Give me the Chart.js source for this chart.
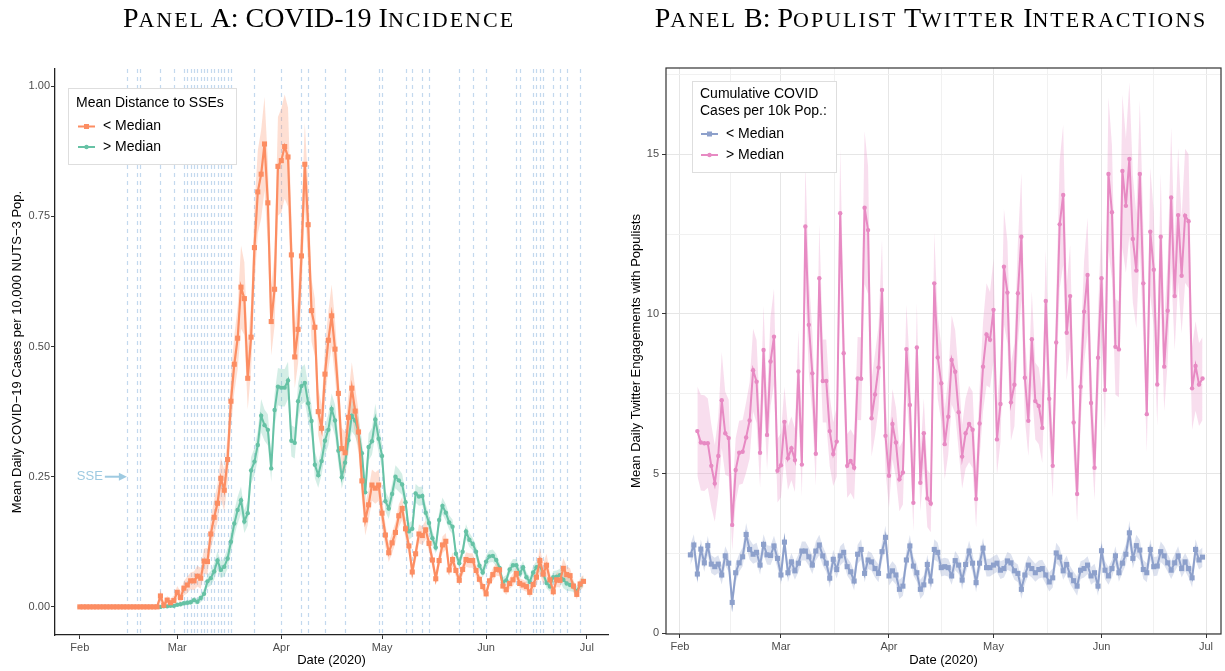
<!DOCTYPE html>
<html><head><meta charset="utf-8">
<script src="https://cdn.jsdelivr.net/npm/chart.js@4/dist/chart.umd.min.js"></script>
<style>
html,body{margin:0;padding:0;background:#fff;}
#wrap{position:relative;width:1225px;height:671px;overflow:hidden;}
canvas{position:absolute;top:0;}
#cA{left:0;}
#cB{left:612px;}
.ptitle{position:absolute;top:1px;height:34px;line-height:34px;text-align:center;white-space:nowrap;
  font-family:'Liberation Serif','DejaVu Serif',serif;font-size:28px;color:#000;pointer-events:none;z-index:2;}
.ptitle .sc{font-size:22px;text-transform:uppercase;letter-spacing:2px;}
#tA{left:0;width:638px;}
#tB{left:637px;width:588px;}
</style></head><body>
<div id="wrap">
<canvas id="cA" width="612" height="671"></canvas><canvas id="cB" width="613" height="671"></canvas>
<div class="ptitle" id="tA">P<span class="sc">anel</span> A: COVID-19 I<span class="sc">ncidence</span></div>
<div class="ptitle" id="tB">P<span class="sc">anel</span> B: P<span class="sc">opulist</span> T<span class="sc">witter</span> I<span class="sc">nteractions</span></div>
</div>
<script>
// ---------------- DATA ----------------
// Day index: 0 = 1 Feb 2020
const monthTickDays = [0, 29, 60, 90, 121, 151];
const monthLabels = ['Feb', 'Mar', 'Apr', 'May', 'Jun', 'Jul'];
const minorTickDaysB = [14.5, 44.5, 75, 105.5, 136];
const yTicksA = [0, 0.25, 0.5, 0.75, 1.0];
const yTicksB = [0, 2.5, 5, 7.5, 10, 12.5, 15, 17.5];
const yLabelsB = [0, 5, 10, 15];

// SSE dates (day index) shown as dashed vertical lines in Panel A
const sseDays = [14,17,18,24,28,31,32,33,34,35,36,37,38,39,40,41,42,43,44,45,52,60,66,68,73,79,89,90,97,99,102,104,113,117,121,130,131,135,136,137,138,141,143,145,149];
const sseArrowValue = 0.25;

// Panel A: Mean daily COVID-19 cases per 10,000 pop.
const startLow = 0;   // < Median distance to SSEs
const lowDistance = [0,0,0,0,0,0,0,0,0,0,0,0,0,0,0,0,0,0,0,0,0,0,0,0,
0.021,0.003,0.013,0.008,0.012,0.028,0.018,0.036,0.042,0.050,
0.050,0.059,0.055,0.088,0.087,0.140,0.172,0.199,0.247,0.224,
0.283,0.395,0.466,0.516,0.614,0.592,0.439,0.518,0.690,0.797,
0.831,0.889,0.776,0.548,0.610,0.846,0.857,0.884,0.864,0.676,
0.480,0.533,0.674,0.850,0.734,0.569,0.537,0.375,0.343,0.447,
0.512,0.559,0.495,0.410,0.304,0.296,0.364,0.420,0.376,0.336,
0.242,0.167,0.196,0.234,0.228,0.234,0.180,0.138,0.104,0.123,
0.143,0.175,0.189,0.150,0.117,0.067,0.102,0.140,0.137,0.148,
0.122,0.090,0.054,0.089,0.119,0.126,0.071,0.091,0.070,0.051,
0.072,0.091,0.089,0.089,0.070,0.053,0.039,0.025,0.050,0.062,
0.072,0.071,0.040,0.033,0.045,0.052,0.064,0.045,0.042,0.039,
0.028,0.043,0.057,0.089,0.063,0.080,0.052,0.029,0.052,0.051,
0.074,0.062,0.060,0.040,0.024,0.044,0.049];
const lowDistanceCI = [0,0,0,0,0,0,0,0,0,0,0,0,0,0,0,0,0,0,0,0,0,0,0,0,
0.012,0.006,0.008,0.008,0.010,0.012,0.012,0.014,0.016,0.016,
0.018,0.020,0.020,0.024,0.026,0.030,0.034,0.036,0.040,0.040,
0.045,0.050,0.055,0.060,0.080,0.070,0.060,0.065,0.075,0.080,
0.085,0.090,0.080,0.065,0.070,0.095,0.100,0.100,0.095,0.075,
0.060,0.065,0.075,0.080,0.075,0.060,0.055,0.045,0.045,0.050,
0.055,0.060,0.055,0.045,0.040,0.040,0.045,0.050,0.045,0.040,
0.035,0.030,0.030,0.030,0.030,0.030,0.028,0.022,0.018,0.020,
0.020,0.022,0.022,0.020,0.018,0.014,0.016,0.018,0.018,0.018,
0.016,0.014,0.012,0.014,0.016,0.016,0.012,0.014,0.012,0.010,
0.012,0.014,0.014,0.014,0.012,0.010,0.010,0.008,0.010,0.012,
0.012,0.012,0.010,0.010,0.010,0.012,0.012,0.010,0.010,0.010,
0.010,0.012,0.016,0.025,0.020,0.022,0.014,0.010,0.014,0.014,
0.020,0.016,0.014,0.012,0.010,0.012,0.012];

const startHigh = 0;  // > Median distance to SSEs
const highDistance = [0,0,0,0,0,0,0,0,0,0,0,0,0,0,0,0,0,0,0,0,0,0,0,0,0,
0.001,0.001,0.002,0.002,0.004,0.005,0.007,0.008,0.009,0.013,
0.010,0.017,0.025,0.049,0.055,0.068,0.089,0.071,0.077,0.093,
0.125,0.160,0.186,0.205,0.164,0.180,0.262,0.279,0.311,0.367,
0.349,0.340,0.266,0.378,0.423,0.421,0.421,0.435,0.319,0.315,
0.395,0.424,0.430,0.391,0.357,0.273,0.253,0.280,0.319,0.340,
0.380,0.358,0.300,0.249,0.277,0.320,0.367,0.358,0.335,0.295,
0.220,0.307,0.318,0.360,0.323,0.290,0.203,0.189,0.217,0.250,
0.243,0.235,0.201,0.145,0.150,0.218,0.212,0.213,0.181,0.161,
0.132,0.114,0.167,0.194,0.181,0.162,0.154,0.102,0.084,0.106,
0.145,0.129,0.121,0.106,0.079,0.066,0.087,0.097,0.098,0.090,
0.075,0.047,0.051,0.072,0.080,0.080,0.064,0.076,0.057,0.048,
0.066,0.076,0.079,0.064,0.046,0.039,0.057,0.058,0.061,0.052,
0.045,0.042,0.039,0.030,0.042,0.050];
const highDistanceCI = [0,0,0,0,0,0,0,0,0,0,0,0,0,0,0,0,0,0,0,0,0,0,0,0,0,
0.002,0.002,0.002,0.003,0.003,0.004,0.004,0.005,0.005,0.006,
0.006,0.008,0.010,0.012,0.014,0.016,0.018,0.016,0.018,0.020,
0.022,0.024,0.026,0.026,0.022,0.024,0.026,0.026,0.028,0.032,
0.030,0.030,0.026,0.032,0.036,0.036,0.036,0.036,0.030,0.030,
0.034,0.036,0.036,0.034,0.030,0.026,0.024,0.026,0.028,0.030,
0.030,0.030,0.026,0.022,0.024,0.026,0.030,0.030,0.028,0.026,
0.022,0.026,0.026,0.030,0.026,0.024,0.020,0.020,0.020,0.022,
0.022,0.020,0.018,0.016,0.016,0.018,0.018,0.018,0.016,0.016,
0.014,0.012,0.016,0.016,0.016,0.014,0.014,0.012,0.010,0.012,
0.014,0.014,0.012,0.012,0.010,0.010,0.012,0.012,0.012,0.012,
0.010,0.010,0.010,0.010,0.012,0.012,0.010,0.012,0.010,0.010,
0.012,0.012,0.012,0.010,0.010,0.010,0.012,0.012,0.012,0.016,
0.014,0.012,0.010,0.010,0.010,0.010];

// Panel B: Mean daily Twitter engagements with populists
const startBelow = 3;  // < Median cumulative cases
const belowMedian = [2.45,2.76,1.85,2.63,2.20,2.74,2.16,2.08,2.16,1.82,
2.42,2.19,0.96,1.89,2.20,2.39,3.09,2.62,2.47,2.53,
2.13,2.78,2.45,2.43,2.73,2.34,1.82,2.85,1.89,2.23,
1.95,2.19,2.57,2.57,2.39,2.13,2.57,2.76,2.42,2.19,
1.72,2.31,1.99,2.42,2.53,2.08,1.92,1.63,2.47,2.62,
1.87,2.29,2.23,2.02,1.87,2.55,3.00,1.79,1.95,1.82,
1.37,1.47,2.29,2.73,2.10,1.89,1.37,1.51,2.15,1.63,
2.62,2.53,2.05,2.08,2.05,1.79,2.27,2.13,1.66,2.15,
2.57,2.19,1.58,2.19,2.66,2.05,2.05,2.13,2.19,1.97,
2.02,2.26,2.20,1.95,1.87,1.37,1.82,2.13,2.02,1.89,
1.99,2.02,1.82,1.60,1.73,2.51,2.38,1.95,2.15,1.82,
1.64,1.47,1.97,2.02,2.13,1.79,1.89,1.47,2.58,1.97,
1.79,2.02,2.42,1.89,2.19,2.47,3.14,2.34,2.74,2.60,
1.99,1.89,2.62,2.08,2.10,2.55,2.42,2.20,1.97,2.20,
2.42,2.02,2.23,2.02,1.73,2.62,2.29,2.38];
const belowMedianCI = [.32,.34,.30,.30,.28,.30,.28,.28,.28,.30,
.30,.28,.30,.30,.28,.30,.36,.32,.30,.30,
.30,.32,.30,.30,.32,.30,.30,.32,.30,.28,
.28,.28,.30,.30,.28,.28,.30,.32,.30,.28,
.30,.30,.28,.30,.30,.28,.28,.30,.30,.32,
.28,.28,.28,.28,.28,.30,.36,.30,.30,.30,
.30,.30,.30,.34,.30,.28,.30,.30,.30,.30,
.32,.30,.28,.28,.28,.28,.30,.28,.30,.30,
.32,.30,.30,.30,.32,.28,.28,.28,.28,.28,
.28,.28,.28,.28,.28,.30,.30,.30,.28,.28,
.28,.28,.28,.30,.30,.32,.30,.28,.28,.28,
.28,.30,.28,.28,.28,.28,.28,.30,.32,.28,
.28,.28,.30,.28,.30,.32,.38,.32,.34,.32,
.30,.30,.32,.30,.30,.32,.30,.28,.28,.28,
.30,.28,.28,.28,.30,.32,.30,.30];

const startAbove = 5;  // > Median cumulative cases
const aboveMedian = [6.33,5.97,5.95,5.95,5.24,4.69,5.55,7.30,6.26,6.11,
3.39,5.11,5.65,5.68,6.13,6.66,8.24,7.88,5.65,8.87,
6.21,8.51,9.29,5.09,5.26,6.62,5.48,5.79,5.42,8.20,
5.28,12.74,9.66,8.14,5.62,11.12,7.90,7.90,6.33,5.61,
6.00,13.16,8.77,5.24,5.39,5.18,7.98,7.97,13.33,12.63,
6.73,7.48,8.32,10.75,6.18,4.93,6.55,5.97,4.82,5.03,
8.90,7.15,4.08,8.95,4.71,6.26,4.22,4.06,10.96,8.64,
7.83,5.92,6.78,8.56,8.19,6.92,5.53,6.26,6.55,6.37,
4.20,6.57,8.35,9.36,9.19,10.13,6.07,7.18,11.48,10.67,
7.23,7.78,10.65,12.42,8.00,6.65,9.21,7.27,7.12,6.43,
10.41,7.34,5.24,9.11,12.81,13.73,9.41,10.56,6.60,4.36,
7.72,10.07,11.22,7.21,5.18,8.63,11.12,7.62,14.39,13.19,
8.97,8.89,14.48,13.39,14.86,12.35,11.36,14.39,10.96,6.86,
12.58,11.39,7.79,12.42,8.35,10.10,13.65,10.56,13.10,11.20,
13.08,12.91,7.67,8.37,7.79,7.98];
const aboveMedianCI = [1.4,1.5,1.5,1.4,1.3,1.2,1.2,1.5,1.3,1.2,
0.8,1.0,1.0,1.0,1.1,1.2,1.3,1.3,1.1,1.4,
1.1,1.4,1.5,1.0,1.0,1.1,1.0,1.0,1.0,1.3,
1.0,2.0,1.5,1.3,1.0,1.7,1.3,1.3,1.1,1.0,
1.1,2.0,1.4,1.0,1.0,1.0,1.3,1.3,2.4,2.0,
1.2,1.3,1.3,1.6,1.1,1.0,1.1,1.1,1.0,1.0,
1.4,1.2,0.9,1.4,0.9,1.1,0.9,0.9,1.6,1.3,
1.2,1.1,1.2,1.4,1.3,1.2,1.0,1.1,1.2,1.2,
0.9,1.1,1.4,1.6,1.5,1.6,1.1,1.2,1.8,1.6,
1.2,1.3,1.6,2.0,1.3,1.1,1.5,1.2,1.2,1.1,
1.6,1.2,1.0,1.4,2.0,2.2,1.5,1.6,1.1,0.9,
1.2,1.6,1.8,1.2,1.0,1.4,1.8,1.3,2.4,2.1,
1.5,1.5,2.4,2.1,2.4,2.0,1.8,2.3,1.8,1.2,
2.0,1.8,1.3,2.0,1.4,1.6,2.2,1.7,2.1,1.8,
2.1,2.1,1.3,1.4,1.3,1.3];

// ---------------- STYLE ----------------
const SANS = "'Liberation Sans', Arial, Helvetica, sans-serif";
const ORANGE = '#FC8D62', GREEN = '#66C2A5', BLUE = '#8DA0CB', PINK = '#E78AC3';
Chart.defaults.font.family = SANS;

function pts(start, vals, ci, sign) {
  return vals.map((v, i) => ({ x: start + i, y: ci ? v + sign * ci[i] : v }));
}
function lineDS(label, start, vals, color, style, radius, width) {
  return { label, data: pts(start, vals), borderColor: color, backgroundColor: color,
    pointStyle: style, pointRadius: radius, pointBorderWidth: 0, borderWidth: width,
    tension: 0, fill: false, order: 0 };
}
function bandDS(start, vals, ci, fillColor) {
  return [
    { data: pts(start, vals, ci, -1), borderWidth: 0, pointRadius: 0, fill: false, order: 5 },
    { data: pts(start, vals, ci, 1), borderWidth: 0, pointRadius: 0, fill: '-1', backgroundColor: fillColor, order: 5 }
  ];
}
function drawLegend(ctx, box, titleLines, titleY, items, itemY, keyX, labelX) {
  ctx.save();
  ctx.fillStyle = '#fff';
  ctx.fillRect(box[0], box[1], box[2], box[3]);
  ctx.strokeStyle = '#dedede'; ctx.lineWidth = 1;
  ctx.strokeRect(box[0] + 0.5, box[1] + 0.5, box[2], box[3]);
  ctx.fillStyle = '#000'; ctx.textAlign = 'left'; ctx.textBaseline = 'middle';
  ctx.font = '14px ' + SANS;
  titleLines.forEach((t, i) => ctx.fillText(t, box[0] + 8, titleY[i]));
  items.forEach((it, i) => {
    const y = itemY[i];
    ctx.strokeStyle = it.color; ctx.lineWidth = 2;
    ctx.beginPath(); ctx.moveTo(keyX[0], y); ctx.lineTo(keyX[1], y); ctx.stroke();
    ctx.fillStyle = it.color;
    const cx = (keyX[0] + keyX[1]) / 2;
    if (it.marker === 'rect') { ctx.fillRect(cx - 2.5, y - 2.5, 5, 5); }
    else { ctx.beginPath(); ctx.arc(cx, y, 2.2, 0, Math.PI * 2); ctx.fill(); }
    ctx.fillStyle = '#000';
    ctx.fillText(it.label, labelX, y);
  });
  ctx.restore();
}
const tickFont = { family: SANS, size: 11 };
const axisTitleFont = { family: SANS, size: 13 };

// ---------------- PANEL A ----------------
const sseLinesPlugin = { id: 'sseLines',
  beforeDatasetsDraw(chart) {
    const { ctx, chartArea: a, scales: { x, y } } = chart;
    ctx.save();
    ctx.strokeStyle = '#c3d9ee'; ctx.lineWidth = 1.2; ctx.setLineDash([4, 4]);
    sseDays.forEach(d => {
      const px = Math.round(x.getPixelForValue(d)) + 0.5;
      ctx.beginPath(); ctx.moveTo(px, a.top); ctx.lineTo(px, a.bottom); ctx.stroke();
    });
    ctx.setLineDash([]);
    // SSE label with arrow
    const yy = y.getPixelForValue(sseArrowValue);
    const tip = x.getPixelForValue(sseDays[0]);
    const tail = tip - 22;
    ctx.fillStyle = '#9ecae1'; ctx.strokeStyle = '#9ecae1'; ctx.lineWidth = 2;
    ctx.font = '13px ' + SANS; ctx.textAlign = 'right'; ctx.textBaseline = 'middle';
    ctx.fillText('SSE', tail - 2, yy);
    ctx.beginPath(); ctx.moveTo(tail, yy); ctx.lineTo(tip - 5, yy); ctx.stroke();
    ctx.beginPath(); ctx.moveTo(tip, yy); ctx.lineTo(tip - 8, yy - 4); ctx.lineTo(tip - 8, yy + 4); ctx.closePath(); ctx.fill();
    ctx.restore();
  },
  afterDraw(chart) {
    drawLegend(chart.ctx, [68, 88, 168, 76], ['Mean Distance to SSEs'], [103],
      [{ label: '< Median', color: ORANGE, marker: 'rect' }, { label: '> Median', color: GREEN, marker: 'circle' }],
      [126.5, 147], [78, 95], [103]);
  }
};

new Chart(document.getElementById('cA'), {
  type: 'line',
  data: { datasets: [
    lineDS('< Median', startLow, lowDistance, ORANGE, 'rect', 3.6, 2.2),
    Object.assign(lineDS('> Median', startHigh, highDistance, GREEN, 'circle', 2.2, 2), { order: 1 }),
    ...bandDS(startLow, lowDistance, lowDistanceCI, 'rgba(252,141,98,0.28)'),
    ...bandDS(startHigh, highDistance, highDistanceCI, 'rgba(102,194,165,0.28)')
  ]},
  options: {
    responsive: false, animation: false, devicePixelRatio: 1,
    layout: { padding: { top: 69, right: 2, left: 0, bottom: 0 } },
    plugins: { legend: { display: false }, tooltip: { enabled: false }, title: { display: false } },
    scales: {
      x: { type: 'linear', min: -7.4, max: 157.3,
        afterBuildTicks: s => { s.ticks = monthTickDays.map(v => ({ value: v })); },
        afterFit: s => { s.height = 36; },
        ticks: { callback: v => monthLabels[monthTickDays.indexOf(v)], color: '#4d4d4d', font: tickFont, padding: 2, maxRotation: 0, autoSkip: false },
        grid: { drawOnChartArea: false, drawTicks: true, tickLength: 4, tickColor: '#333', tickWidth: 1 },
        border: { display: true, color: '#222', width: 1.3 },
        title: { display: true, text: 'Date (2020)', color: '#000', font: axisTitleFont, padding: { top: 0, bottom: 3 } }
      },
      y: { type: 'linear', min: -0.054, max: 1.033,
        afterBuildTicks: s => { s.ticks = yTicksA.map(v => ({ value: v })); },
        afterFit: s => { s.width = 55; },
        ticks: { callback: v => v.toFixed(2), color: '#4d4d4d', font: tickFont, padding: 1 },
        grid: { drawOnChartArea: false, drawTicks: true, tickLength: 4, tickColor: '#333', tickWidth: 1 },
        border: { display: true, color: '#222', width: 1.3 },
        title: { display: true, text: 'Mean Daily COVID\u221219 Cases per 10,000 NUTS\u22123 Pop.', color: '#000', font: axisTitleFont, padding: { top: 10, bottom: 0 } }
      }
    }
  },
  plugins: [sseLinesPlugin]
});

// ---------------- PANEL B ----------------
const majorB = v => monthTickDays.includes(v);
const panelBPlugin = { id: 'panelB',
  afterDraw(chart) {
    const { ctx, chartArea: a } = chart;
    ctx.save(); ctx.strokeStyle = '#333'; ctx.lineWidth = 1.2;
    ctx.strokeRect(a.left, a.top, a.right - a.left, a.bottom - a.top);
    ctx.restore();
    drawLegend(ctx, [80, 81, 144, 91], ['Cumulative COVID', 'Cases per 10k Pop.:'], [94.5, 111],
      [{ label: '< Median', color: BLUE, marker: 'rect' }, { label: '> Median', color: PINK, marker: 'circle' }],
      [134, 155], [89, 106], [114]);
  }
};

new Chart(document.getElementById('cB'), {
  type: 'line',
  data: { datasets: [
    lineDS('< Median', startBelow, belowMedian, BLUE, 'rect', 3.6, 2),
    lineDS('> Median', startAbove, aboveMedian, PINK, 'circle', 2.2, 2),
    ...bandDS(startBelow, belowMedian, belowMedianCI, 'rgba(141,160,203,0.3)'),
    ...bandDS(startAbove, aboveMedian, aboveMedianCI, 'rgba(231,138,195,0.28)')
  ]},
  options: {
    responsive: false, animation: false, devicePixelRatio: 1,
    layout: { padding: { top: 68, right: 3, left: 0, bottom: 0 } },
    plugins: { legend: { display: false }, tooltip: { enabled: false }, title: { display: false } },
    scales: {
      x: { type: 'linear', min: -4.0, max: 155.3,
        afterBuildTicks: s => { s.ticks = monthTickDays.concat(minorTickDaysB).sort((a, b) => a - b).map(v => ({ value: v })); },
        afterFit: s => { s.height = 37; },
        ticks: { callback: v => majorB(v) ? monthLabels[monthTickDays.indexOf(v)] : '', color: '#4d4d4d', font: tickFont, padding: 2, maxRotation: 0, autoSkip: false },
        grid: { drawOnChartArea: true, drawTicks: true, tickLength: 4,
          color: c => (c.tick && majorB(c.tick.value)) ? '#e6e6e6' : '#f1f1f1',
          tickColor: c => (c.tick && majorB(c.tick.value)) ? '#333' : 'rgba(0,0,0,0)' },
        border: { display: false },
        title: { display: true, text: 'Date (2020)', color: '#000', font: axisTitleFont, padding: { top: 0, bottom: 3 } }
      },
      y: { type: 'linear', min: -0.03, max: 17.71,
        afterBuildTicks: s => { s.ticks = yTicksB.map(v => ({ value: v })); },
        afterFit: s => { s.width = 54; },
        ticks: { callback: v => yLabelsB.includes(v) ? String(v) : '', color: '#4d4d4d', font: tickFont, padding: 3 },
        grid: { drawOnChartArea: true, drawTicks: true, tickLength: 4,
          color: c => (c.tick && yLabelsB.includes(c.tick.value)) ? '#e6e6e6' : '#f1f1f1',
          tickColor: c => (c.tick && yLabelsB.includes(c.tick.value)) ? '#333' : 'rgba(0,0,0,0)' },
        border: { display: false },
        title: { display: true, text: 'Mean Daily Twitter Engagements with Populists', color: '#000', font: axisTitleFont, padding: { top: 17, bottom: 0 } }
      }
    }
  },
  plugins: [panelBPlugin]
});
</script></body></html>
